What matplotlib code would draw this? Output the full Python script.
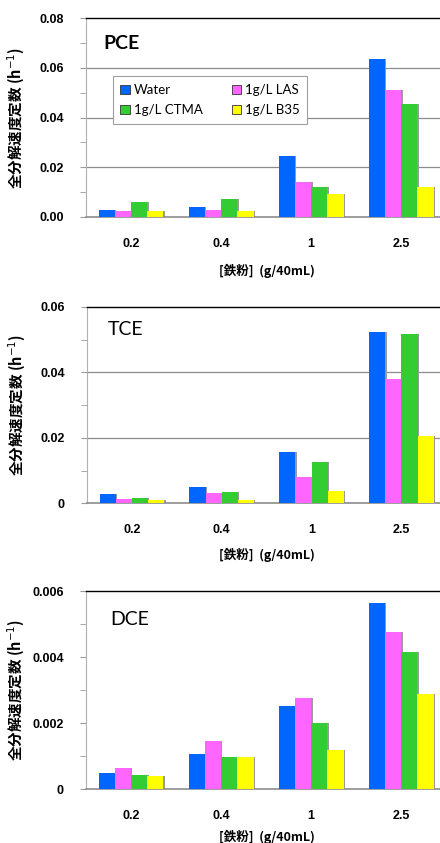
import numpy as np
import matplotlib
matplotlib.use("Agg")
import matplotlib.pyplot as plt

plt.rcParams["font.family"] = ["Noto Sans CJK JP", "DejaVu Sans"]

# iron powder dose groups and surfactant series
doses = ["0.2", "0.4", "1", "2.5"]
series = ["Water", "1g/L LAS", "1g/L CTMA", "1g/L B35"]
colors = ["#0066FF", "#FF66FF", "#33CC33", "#FFFF00"]

# total degradation rate constants (1/h), rows follow `series`
pce = [[0.0028, 0.0039, 0.0245, 0.0634],
       [0.0024, 0.0028, 0.0141, 0.0511],
       [0.0060, 0.0072, 0.0119, 0.0454],
       [0.0024, 0.0024, 0.0092, 0.0119]]
tce = [[0.0029, 0.0051, 0.0156, 0.0523],
       [0.0013, 0.0031, 0.0079, 0.0379],
       [0.0016, 0.0035, 0.0126, 0.0518],
       [0.0010, 0.0010, 0.0036, 0.0206]]
dce = [[0.00050, 0.00107, 0.00253, 0.00565],
       [0.00064, 0.00146, 0.00277, 0.00477],
       [0.00044, 0.00098, 0.00201, 0.00416],
       [0.00039, 0.00097, 0.00119, 0.00288]]

pce_ticks = [0.0, 0.02, 0.04, 0.06, 0.08]
pce_ticklabels = ["0.00", "0.02", "0.04", "0.06", "0.08"]
tce_ticks = [0.0, 0.02, 0.04, 0.06]
tce_ticklabels = ["0", "0.02", "0.04", "0.06"]
dce_ticks = [0.0, 0.002, 0.004, 0.006]
dce_ticklabels = ["0", "0.002", "0.004", "0.006"]

ylab = "全分解速度定数 (h$^{-1}$)"
xlab = "[鉄粉]  (g/40mL)"
W = 0.18

fig = plt.figure(figsize=(4.4, 8.43), dpi=100)


def panel(rect, data, name, ticks, ticklabels, grid, title_xy, title_bold, xlab_y):
    ax = fig.add_axes(rect)
    x = np.arange(len(doses))
    for i, (vals, c) in enumerate(zip(data, colors)):
        pos = x + (i - 1.5) * W
        ax.bar(pos + 0.015, vals, W, color="#9a9a9a", lw=0, zorder=2)
        ax.bar(pos, vals, W, color=c, lw=0, zorder=3, label=series[i])
    ymax = ticks[-1]
    ax.set_ylim(0, ymax)
    ax.set_xlim(-0.5, 3.43)
    ax.set_yticks(ticks)
    ax.set_yticklabels(ticklabels)
    step = ticks[1] - ticks[0]
    ax.set_yticks(np.arange(step / 2, ymax, step), minor=True)
    for g in grid:
        ax.axhline(g, color="#8c8c8c", lw=0.9, zorder=1)
    ax.set_xticks(x)
    ax.set_xticklabels(doses)
    ax.tick_params(axis="x", length=0, pad=15)
    ax.tick_params(axis="y", which="both", length=4, color="#9a9a9a", pad=12)
    for lab in ax.get_xticklabels() + ax.get_yticklabels():
        lab.set_fontsize(9)
        lab.set_fontweight("bold")
        lab.set_family(["Liberation Sans", "DejaVu Sans"])
    ax.spines["right"].set_visible(False)
    ax.spines["top"].set_color("black")
    ax.spines["top"].set_linewidth(1.0)
    ax.spines["left"].set_color("#b0b0b0")
    ax.spines["bottom"].set_color("#8c8c8c")
    ax.spines["bottom"].set_linewidth(1.2)
    ax.set_ylabel(ylab, fontsize=10.5, fontweight="bold")
    ax.yaxis.set_label_coords(-0.167, 0.5)
    ax.set_xlabel(xlab, fontsize=9, fontweight="bold")
    ax.xaxis.set_label_coords(0.51, xlab_y)
    ax.text(title_xy[0], title_xy[1], name, transform=ax.transAxes,
            fontsize=14, fontweight="bold" if title_bold else "normal",
            family=["Lato", "DejaVu Sans"], va="center", ha="left")
    return ax


ax1 = panel([86 / 440, 0.7426, 354 / 440, 0.236], pce, "PCE",
            pce_ticks, pce_ticklabels, [0.02, 0.04, 0.06], (0.048, 0.874), True, -0.235)
panel([87 / 440, 0.403, 353 / 440, 0.2329], tce, "TCE",
      tce_ticks, tce_ticklabels, [0.02, 0.04], (0.06, 0.883), False, -0.225)
panel([86 / 440, 0.0637, 354 / 440, 0.2349], dce, "DCE",
      dce_ticks, dce_ticklabels, [], (0.068, 0.86), False, -0.205)

# two columns filled row by row: Water | LAS, CTMA | B35
handles, labels = ax1.get_legend_handles_labels()
order = [0, 2, 1, 3]
leg = ax1.legend([handles[k] for k in order], [labels[k] for k in order],
                 loc="upper left", bbox_to_anchor=(0.075, 0.709), ncol=2,
                 borderaxespad=0, handlelength=0.7, handleheight=0.7,
                 handletextpad=0.3, columnspacing=2.2, labelspacing=0.6,
                 borderpad=0.6, fancybox=False, framealpha=1,
                 prop={"family": ["Lato", "DejaVu Sans"], "size": 9.5})
leg.get_frame().set_edgecolor("#a0a0a0")
leg.get_frame().set_linewidth(0.8)
for h in leg.legend_handles:
    h.set_edgecolor("#333333")
    h.set_linewidth(0.6)
leg.set_zorder(5)

fig.savefig("out.png", dpi=100)
